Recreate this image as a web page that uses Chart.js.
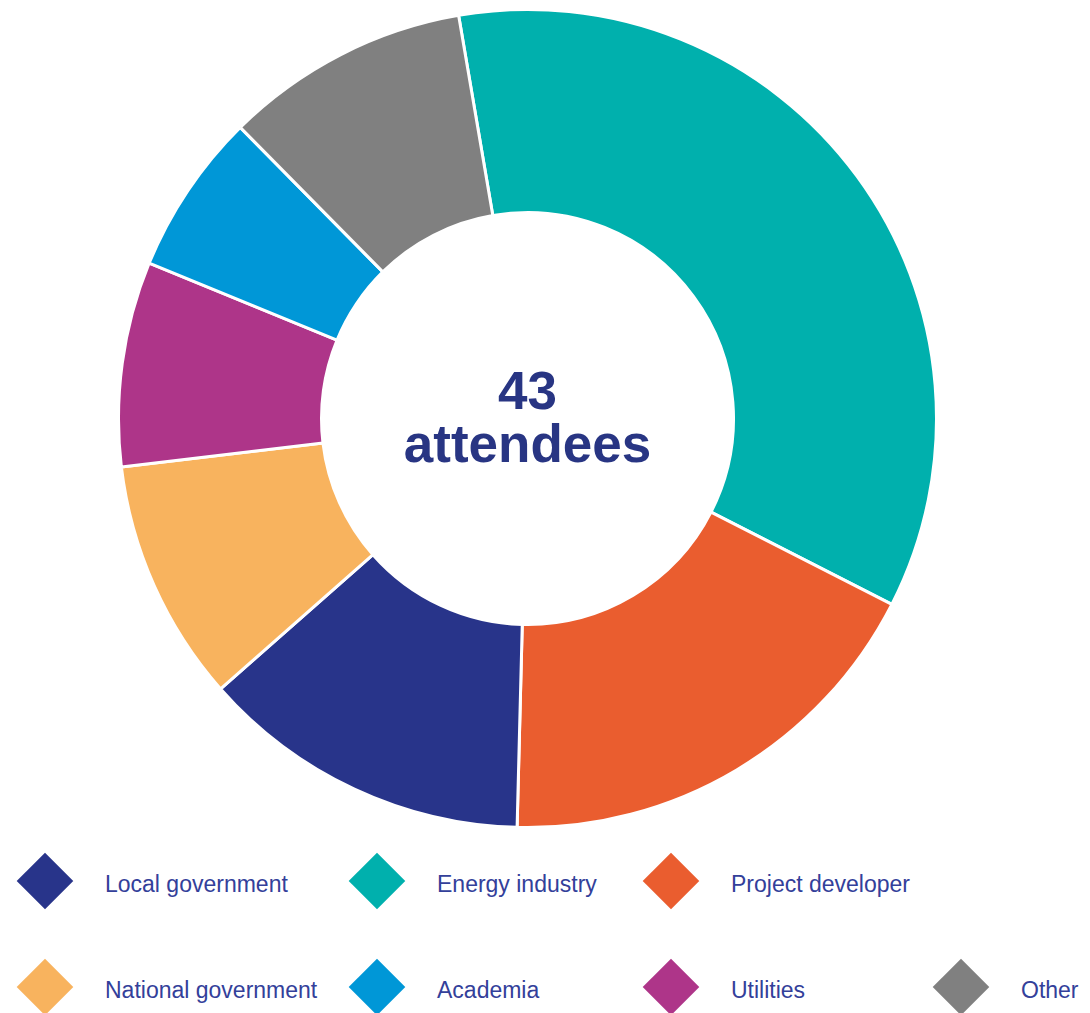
<!DOCTYPE html>
<html>
<head>
<meta charset="utf-8">
<script src="https://cdn.jsdelivr.net/npm/chart.js@4/dist/chart.umd.min.js"></script>
<style>
  body { margin: 0; background: #fff; width: 1090px; height: 1013px; overflow: hidden; position: relative; font-family: "Liberation Sans", Arial, sans-serif; }
  #wrap { position: absolute; left: 117px; top: 8px; width: 821px; height: 821px; }
  .key { position: absolute; width: 40px; height: 40px; transform: rotate(45deg); }
  .txt { position: absolute; font-size: 23px; color: #33409a; line-height: 23px; white-space: nowrap; }
</style>
</head>
<body>
<div id="wrap"><canvas id="donut"></canvas></div>
<div id="legend"></div>
<script>
// slices, clockwise from the top
const labels = ["Energy industry", "Project developer", "Local government", "National government", "Utilities", "Academia", "Other"];
const shares = [35.2, 17.9, 13.1, 9.6, 8.1, 6.4, 9.7];
const colours = ["#00b0ad", "#ea5d2f", "#28348a", "#f8b35e", "#ae3589", "#0097d7", "#808080"];
const totalText = ["43", "attendees"];

// legend grid order
const legendOrder = ["Local government", "Energy industry", "Project developer", "National government", "Academia", "Utilities", "Other"];
const legendCols = [45, 377, 671, 961];

const centreText = {
  id: "centreText",
  afterDraw(chart) {
    const arc = chart.getDatasetMeta(0).data[0];
    const ctx = chart.ctx;
    ctx.save();
    ctx.fillStyle = "#283583";
    ctx.font = "bold 53px 'Liberation Sans', Arial, sans-serif";
    ctx.textAlign = "center";
    ctx.textBaseline = "alphabetic";
    ctx.fillText(totalText[0], arc.x, arc.y - 10);
    ctx.fillText(totalText[1], arc.x, arc.y + 43);
    ctx.restore();
  }
};

new Chart(document.getElementById("donut"), {
  type: "doughnut",
  data: {
    labels: labels,
    datasets: [{
      data: shares,
      backgroundColor: colours,
      borderColor: "#ffffff",
      borderWidth: 3
    }]
  },
  options: {
    responsive: true,
    maintainAspectRatio: false,
    animation: false,
    rotation: -9.7,
    cutout: 206,
    layout: { padding: 0 },
    plugins: {
      legend: { display: false },
      tooltip: { enabled: false }
    }
  },
  plugins: [centreText]
});

// html legend, 3 items then 4
const legend = document.getElementById("legend");
legendOrder.forEach((name, i) => {
  const row = i < 3 ? 0 : 1;
  const col = i < 3 ? i : i - 3;
  const cx = legendCols[col];
  const cy = row === 0 ? 881 : 987;
  const k = document.createElement("div");
  k.className = "key";
  k.style.left = (cx - 20) + "px";
  k.style.top = (cy - 20) + "px";
  k.style.background = colours[labels.indexOf(name)];
  legend.appendChild(k);
  const t = document.createElement("div");
  t.className = "txt";
  t.textContent = name;
  t.style.left = (cx + 60) + "px";
  t.style.top = (cy - 8) + "px";
  legend.appendChild(t);
});
</script>
</body>
</html>
